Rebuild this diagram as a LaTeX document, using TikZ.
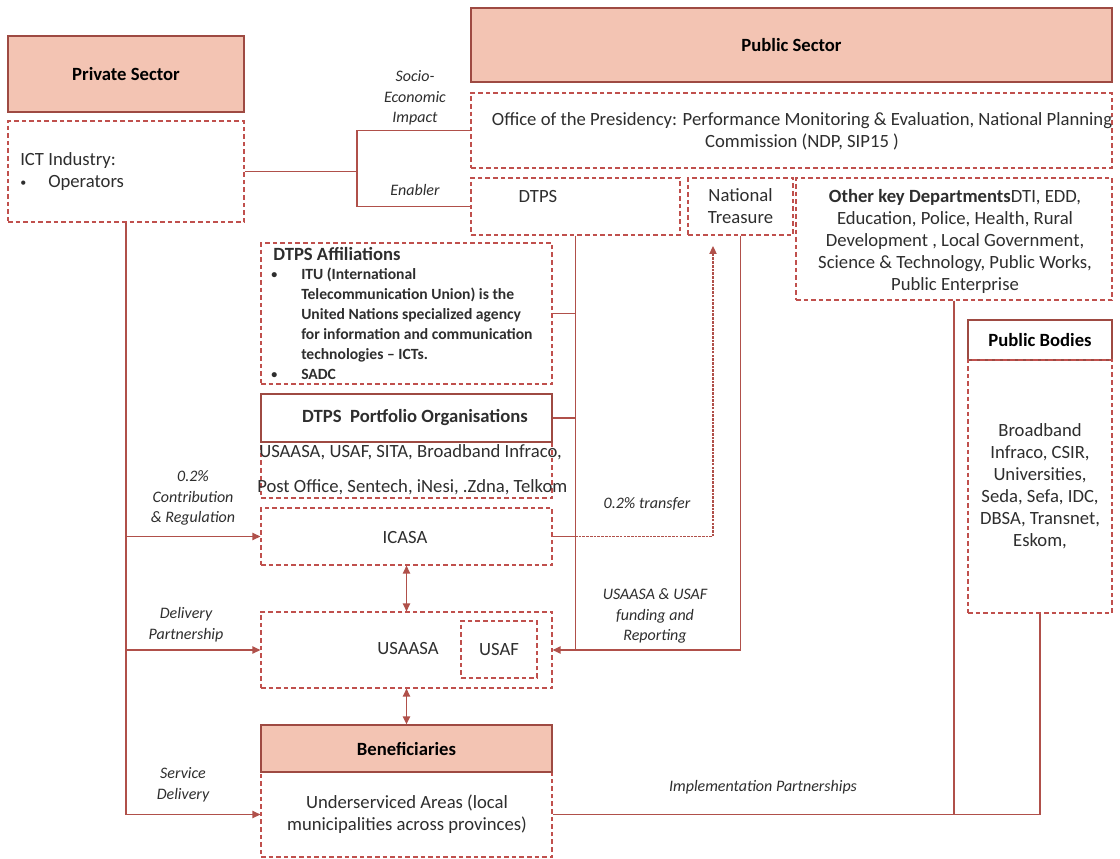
\documentclass[tikz,border=0pt]{standalone}
\usepackage{fontspec}
\setmainfont{Carlito}
\usetikzlibrary{fit,arrows.meta}
\definecolor{salmon}{HTML}{F3C4B3}
\definecolor{edgec}{HTML}{9E4A42}
\definecolor{dashc}{HTML}{C0504D}
\definecolor{wirec}{HTML}{B0504A}
\definecolor{ink}{HTML}{2E2E2E}
\newcommand{\smbul}{\raisebox{0.15ex}{\fontsize{9}{9}\selectfont\textbullet}}
\begin{document}
\begin{tikzpicture}[x=0.75pt,y=-0.75pt,
 filledbox/.style={draw=edgec, line width=1pt, fill=salmon, inner sep=0pt, rectangle},
 dashbox/.style={draw=dashc, line width=0.9pt, dash pattern=on 3.5pt off 2.2pt, inner sep=0pt, rectangle},
 thinbox/.style={draw=edgec, line width=0.8pt, inner sep=0pt, rectangle},
 wire/.style={draw=wirec, line width=1pt},
 finewire/.style={draw=wirec, line width=0.8pt, dash pattern=on 2pt off 0.8pt},
 arr/.style={wire, -{Triangle[length=6pt,width=5.5pt]}},
 darr/.style={wire, {Triangle[length=6pt,width=5.5pt]}-{Triangle[length=6pt,width=5.5pt]}},
 lbl/.style={font=\fontsize{12}{15.5}\selectfont\itshape, text=ink, align=center, inner sep=0pt},
 txt/.style={font=\fontsize{14}{16.5}\selectfont, text=ink, align=center, inner sep=0pt},
 head/.style={font=\fontsize{14}{16.5}\selectfont\bfseries, text=black, inner sep=0pt},
 small/.style={font=\fontsize{11.7}{15}\selectfont\bfseries, text=ink, align=left, inner sep=0pt},
]
\fill[white] (0,0) rectangle (1120,859);
\useasboundingbox (0,0) rectangle (1120,859);

% Private sector
\node[filledbox, fit={(8,36)(244,112)}] (priv) {};
\node[head] (privT) at (priv.center) {Private Sector};
\node[dashbox, fit={(8,121)(244,222)}] (ict) {};
\node[txt, align=left, anchor=west] (ictT) at (20,172) {ICT Industry:\\\makebox[21pt][l]{\smbul}Operators};

% Public sector
\node[filledbox, fit={(471,8)(1112,82)}] (pub) {};
\node[head] (pubT) at (pub.center) {Public Sector};
\node[dashbox, fit={(471,93)(1112,168)}] (office) {};
\node[txt] (officeT) at (802,131) {Office of the Presidency: Performance Monitoring \& Evaluation, National Planning\\Commission (NDP, SIP15 )};
\node[dashbox, fit={(471,178)(680,235)}] (dtps) {};
\node[txt] (dtpsT) at (538,197) {DTPS};
\node[dashbox, fit={(688,178)(793,235)}] (nt) {};
\node[txt] (ntT) at (nt.center) {National\\Treasure};
\node[dashbox, fit={(796,178)(1112,300)}] (okd) {};
\node[txt] (okdT) at (955,241) {\textbf{Other key Departments}DTI, EDD,\\Education, Police, Health, Rural\\Development , Local Government,\\Science \& Technology, Public Works,\\Public Enterprise};

% Affiliations
\node[dashbox, fit={(261,243)(552,384)}] (affil) {};
\node[head, anchor=west, text=ink] (affilH) at (273,254) {DTPS Affiliations};
\node[small, anchor=north west] (affilT) at (271,268) {\makebox[22.5pt][l]{\smbul}ITU (International\\\hspace*{22.5pt}Telecommunication Union) is the\\\hspace*{22.5pt}United Nations specialized agency\\\hspace*{22.5pt}for information and communication\\\hspace*{22.5pt}technologies -- ICTs.\\\makebox[22.5pt][l]{\smbul}SADC};

% Portfolio
\node[dashbox, fit={(261,394)(552,498)}] (portO) {};
\node[thinbox, fit={(261,394)(552,442)}] (port) {};
\node[head, text=ink] (portT) at (415,418) {DTPS\ \ Portfolio Organisations};
\node[txt, anchor=west] (portA) at (259,452) {USAASA, USAF, SITA, Broadband Infraco,};
\node[txt, anchor=west] (portB) at (257,487) {Post Office, Sentech, iNesi, .Zdna, Telkom};

% ICASA, USAASA
\node[dashbox, fit={(261,508)(552,565)}] (icasa) {};
\node[txt] (icasaT) at (405,538) {ICASA};
\node[dashbox, fit={(261,612)(552,688)}] (usaasa) {};
\node[txt] (usaasaT) at (408,649) {USAASA};
\node[dashbox, fit={(461,621)(537,678)}] (usaf) {};
\node[txt] (usafT) at (usaf.center) {USAF};

% Beneficiaries
\node[dashbox, fit={(261,772)(552,857)}] (under) {};
\node[filledbox, fit={(261,725)(552,772)}] (benef) {};
\node[head] (benefT) at (benef.center) {Beneficiaries};
\node[txt] (underT) at (407,814) {Underserviced Areas (local\\municipalities across provinces)};

% Public bodies
\node[thinbox, fit={(968,320)(1112,360)}] (pbh) {};
\node[head] (pbhT) at (pbh.center) {Public Bodies};
\node[dashbox, fit={(968,360)(1112,613)}] (pbd) {};
\node[txt] (pbdT) at (1040,486) {Broadband\\Infraco, CSIR,\\Universities,\\Seda, Sefa, IDC,\\DBSA, Transnet,\\Eskom,};

% Connectors: private -> public
\coordinate (j1) at (357,0);
\draw[wire] (ict.east) -- (ict.east -| j1);
\draw[wire] (office.west) -- (office.west -| j1) -- (dtps.west -| j1) -- (dtps.west);

% DTPS trunk
\draw[wire] (dtps.south) -- (dtps.south |- usaasa.east);
\draw[wire] (affil.east) -- (affil.east -| dtps.south);
\draw[wire] (port.east) -- (port.east -| dtps.south);
\draw[wire] (icasa.east) -- (icasa.east -| dtps.south);

% National treasury
\draw[arr] (nt.south) |- (usaasa.east);
\coordinate (ntin) at (713,246);
\draw[finewire, -{Triangle[length=6pt,width=5.5pt]}] (icasa.east) -| (ntin);

% Left trunk
\draw[wire] (ict.south) -- (ict.south |- under.west);
\draw[arr] (ict.south |- icasa.west) -- (icasa.west);
\draw[arr] (ict.south |- usaasa.west) -- (usaasa.west);
\draw[arr] (ict.south |- under.west) -- (under.west);

% vertical double arrows
\draw[darr] (icasa.south) -- (usaasa.north);
\draw[darr] (usaasa.south) -- (benef.north);

% Right
\draw[wire] (okd.south) -- (okd.south |- under.east);
\draw[wire] (pbd.south) |- (under.east);

% Labels
\node[lbl] (l1) at (415,98) {Socio-\\Economic\\Impact};
\node[lbl] (l2) at (415,190) {Enabler};
\node[lbl] (l3) at (193,498) {0.2\%\\Contribution\\\& Regulation};
\node[lbl] (l4) at (186,625) {Delivery\\Partnership};
\node[lbl] (l5) at (183,785) {Service\\Delivery};
\node[lbl] (l6) at (647,504) {0.2\% transfer};
\node[lbl] (l7) at (655,616) {USAASA \& USAF\\funding and\\Reporting};
\node[lbl] (l8) at (763,787) {Implementation Partnerships};
\end{tikzpicture}
\end{document}
